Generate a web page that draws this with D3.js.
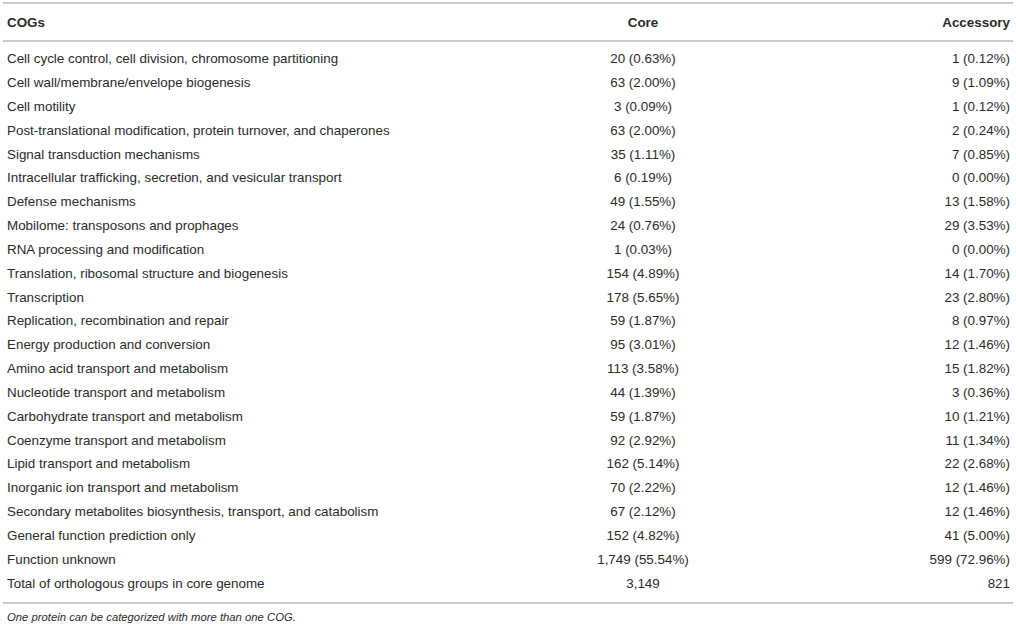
<!DOCTYPE html>
<html>
<head>
<meta charset="utf-8">
<script src="https://cdn.jsdelivr.net/npm/d3@7"></script>
<style>
  body { margin: 0; background: #fff; }
  svg text { font-family: "Liberation Sans", Arial, Helvetica, sans-serif; font-size: 13.4px; fill: #2b2b2b; }
  .head { font-weight: bold; }
  .note { font-style: italic; font-size: 11.3px; }
</style>
</head>
<body>
<div id="table"></div>
<script>
var headers = ["COGs", "Core", "Accessory"];

var categories = [
    "Cell cycle control, cell division, chromosome partitioning",
    "Cell wall/membrane/envelope biogenesis",
    "Cell motility",
    "Post-translational modification, protein turnover, and chaperones",
    "Signal transduction mechanisms",
    "Intracellular trafficking, secretion, and vesicular transport",
    "Defense mechanisms",
    "Mobilome: transposons and prophages",
    "RNA processing and modification",
    "Translation, ribosomal structure and biogenesis",
    "Transcription",
    "Replication, recombination and repair",
    "Energy production and conversion",
    "Amino acid transport and metabolism",
    "Nucleotide transport and metabolism",
    "Carbohydrate transport and metabolism",
    "Coenzyme transport and metabolism",
    "Lipid transport and metabolism",
    "Inorganic ion transport and metabolism",
    "Secondary metabolites biosynthesis, transport, and catabolism",
    "General function prediction only",
    "Function unknown",
    "Total of orthologous groups in core genome"
];

var coreValues = [
    "20 (0.63%)", "63 (2.00%)", "3 (0.09%)", "63 (2.00%)", "35 (1.11%)",
    "6 (0.19%)", "49 (1.55%)", "24 (0.76%)", "1 (0.03%)", "154 (4.89%)",
    "178 (5.65%)", "59 (1.87%)", "95 (3.01%)", "113 (3.58%)", "44 (1.39%)",
    "59 (1.87%)", "92 (2.92%)", "162 (5.14%)", "70 (2.22%)", "67 (2.12%)",
    "152 (4.82%)", "1,749 (55.54%)", "3,149"
];

var accessoryValues = [
    "1 (0.12%)", "9 (1.09%)", "1 (0.12%)", "2 (0.24%)", "7 (0.85%)",
    "0 (0.00%)", "13 (1.58%)", "29 (3.53%)", "0 (0.00%)", "14 (1.70%)",
    "23 (2.80%)", "8 (0.97%)", "12 (1.46%)", "15 (1.82%)", "3 (0.36%)",
    "10 (1.21%)", "11 (1.34%)", "22 (2.68%)", "12 (1.46%)", "12 (1.46%)",
    "41 (5.00%)", "599 (72.96%)", "821"
];

var footnote = "One protein can be categorized with more than one COG.";

function drawTable() {
    var width = 1016;
    var height = 625;

    var svg = d3.select("#table")
        .append("svg")
        .attr("width", width)
        .attr("height", height);

    var rows = categories.map((c, i) => ({ cog: c, core: coreValues[i], acc: accessoryValues[i] }));

    // row centres
    var yScale = d3.scalePoint()
        .domain(d3.range(rows.length))
        .range([58.5, 583]);

    var xCog = 7, xCore = 643, xAcc = 1010;

    // rules
    [3, 41, 603].forEach(y => {
        svg.append("line")
            .attr("x1", 3).attr("x2", 1013)
            .attr("y1", y).attr("y2", y)
            .attr("stroke", "#cccccc")
            .attr("stroke-width", 2);
    });

    // header
    var head = svg.append("g").attr("class", "head");
    head.append("text").attr("x", xCog).attr("y", 22).attr("dy", "0.35em").text(headers[0]);
    head.append("text").attr("x", xCore).attr("y", 22).attr("dy", "0.35em").attr("text-anchor", "middle").text(headers[1]);
    head.append("text").attr("x", xAcc).attr("y", 22).attr("dy", "0.35em").attr("text-anchor", "end").text(headers[2]);

    var row = svg.selectAll("g.row")
        .data(rows)
        .enter()
        .append("g")
        .attr("class", "row")
        .attr("transform", (d, i) => `translate(0, ${yScale(i)})`);

    row.append("text").attr("x", xCog).attr("dy", "0.35em").text(d => d.cog);
    row.append("text").attr("x", xCore).attr("dy", "0.35em").attr("text-anchor", "middle").text(d => d.core);
    row.append("text").attr("x", xAcc).attr("dy", "0.35em").attr("text-anchor", "end").text(d => d.acc);

    svg.append("text")
        .attr("class", "note")
        .attr("x", xCog)
        .attr("y", 617)
        .attr("dy", "0.35em")
        .text(footnote);
}

drawTable();
</script>
</body>
</html>
